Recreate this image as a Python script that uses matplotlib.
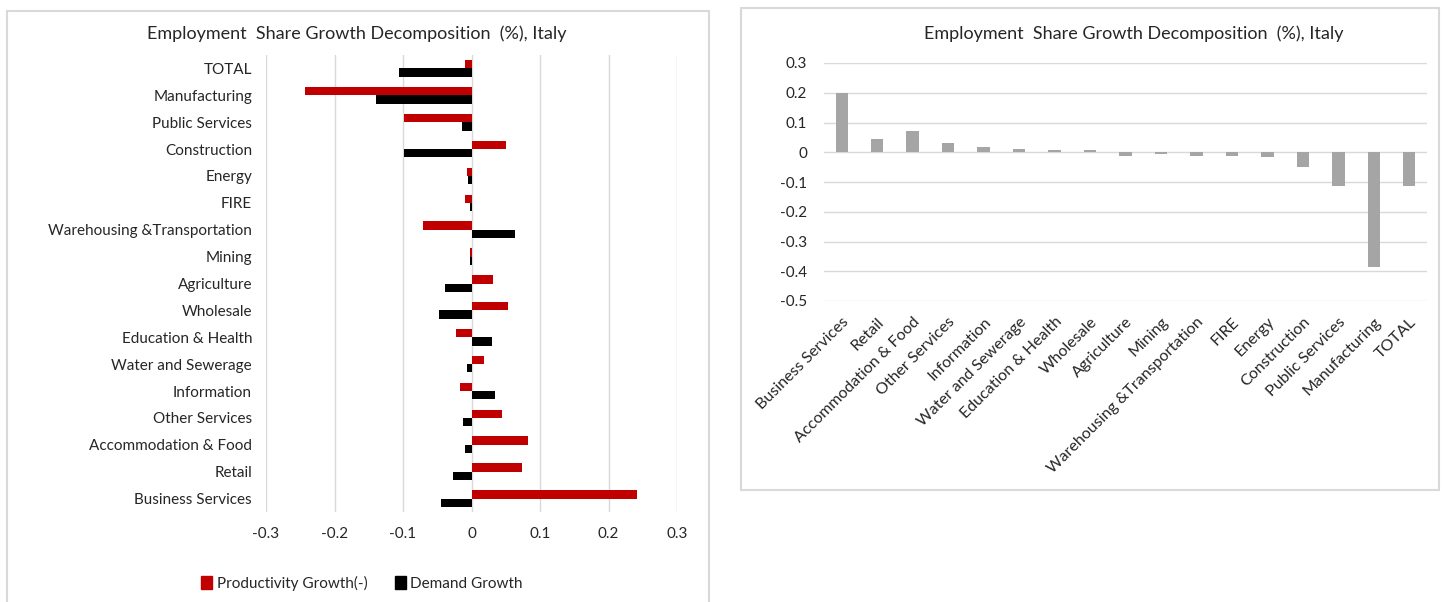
import matplotlib
matplotlib.use("Agg")
import matplotlib.pyplot as plt
from matplotlib.patches import Rectangle, Patch

plt.rcParams["font.family"] = ["Lato", "DejaVu Sans"]

# Sectors, ordered from the bottom of the horizontal chart upward
sectors = [
    "Business Services", "Retail", "Accommodation & Food", "Other Services",
    "Information", "Water and Sewerage", "Education & Health", "Wholesale",
    "Agriculture", "Mining", "Warehousing &Transportation", "FIRE", "Energy",
    "Construction", "Public Services", "Manufacturing", "TOTAL",
]
productivity_growth = [
    0.242, 0.074, 0.082, 0.044, -0.017, 0.018, -0.022, 0.054,
    0.032, -0.002, -0.071, -0.009, -0.007, 0.050, -0.098, -0.243, -0.009,
]
demand_growth = [
    -0.044, -0.027, -0.010, -0.012, 0.034, -0.007, 0.030, -0.047,
    -0.039, -0.002, 0.064, -0.002, -0.005, -0.098, -0.014, -0.140, -0.106,
]
share_growth = [
    0.198, 0.046, 0.071, 0.031, 0.018, 0.012, 0.008, 0.008,
    -0.011, -0.007, -0.011, -0.011, -0.017, -0.050, -0.114, -0.387, -0.114,
]
left_ticks = [-0.3, -0.2, -0.1, 0, 0.1, 0.2, 0.3]
right_ticks = [0.3, 0.2, 0.1, 0, -0.1, -0.2, -0.3, -0.4, -0.5]
title = "Employment  Share Growth Decomposition  (%), Italy"

RED = "#C00000"
BLACK = "#000000"
GREY = "#A5A5A5"
GRID = "#D9D9D9"
TEXT = "#262626"

W, H = 1444, 602
fig = plt.figure(figsize=(W / 100, H / 100), dpi=100)


def px_box(l, t, r, b):
    return [l / W, 1 - b / H, (r - l) / W, (b - t) / H]


def fmt(v):
    return "0" if v == 0 else f"{v:g}"


# Chart frames
for l, t, r, b in [(7, 11, 709, 640), (741, 8, 1439, 490)]:
    fig.patches.append(Rectangle((l / W, 1 - b / H), (r - l) / W, (b - t) / H,
                                 transform=fig.transFigure, fill=False,
                                 edgecolor=GRID, linewidth=1.5))

# ---- Left: horizontal decomposition bars ----
ax1 = fig.add_axes(px_box(266, 55, 677, 512))
ypos = list(range(len(sectors)))
bh = 0.31
ax1.barh([y + bh / 2 for y in ypos], productivity_growth, height=bh,
         color=RED, label="Productivity Growth(-)", zorder=3)
ax1.barh([y - bh / 2 for y in ypos], demand_growth, height=bh,
         color=BLACK, label="Demand Growth", zorder=3)
ax1.set_xlim(-0.3, 0.3)
ax1.set_ylim(-0.5, len(sectors) - 0.5)
ax1.set_xticks(left_ticks)
ax1.set_xticklabels([fmt(v) for v in left_ticks])
ax1.set_yticks(ypos)
ax1.set_yticklabels(sectors)
ax1.grid(axis="x", color=GRID, linewidth=1, zorder=0)
for s in ax1.spines.values():
    s.set_visible(False)
ax1.tick_params(axis="both", length=0, labelsize=11, labelcolor=TEXT)
ax1.tick_params(axis="y", pad=10)
ax1.tick_params(axis="x", pad=11)
fig.text(357 / W, 1 - 34 / H, title, ha="center", va="center",
         fontsize=13, color=TEXT)
fig.legend(handles=[Patch(color=RED, label="Productivity Growth(-)"),
                    Patch(color=BLACK, label="Demand Growth")],
           loc="center", bbox_to_anchor=(362 / W, 1 - 583 / H), ncol=2,
           frameon=False, fontsize=11, handlelength=0.7, handleheight=0.9,
           handletextpad=0.3, columnspacing=1.8, labelcolor=TEXT)

# ---- Right: total share growth by sector ----
ax2 = fig.add_axes(px_box(824, 63, 1427, 301))
xpos = list(range(len(sectors)))
ax2.bar(xpos, share_growth, width=0.35, color=GREY, zorder=3)
ax2.set_xlim(-0.5, len(sectors) - 0.5)
ax2.set_ylim(-0.5, 0.3)
ax2.set_yticks(right_ticks)
ax2.set_yticklabels([fmt(v) for v in right_ticks])
ax2.set_xticks(xpos)
ax2.set_xticklabels(sectors, rotation=45, ha="right", va="top",
                    rotation_mode="anchor")
ax2.grid(axis="y", color=GRID, linewidth=1, zorder=0)
for s in ax2.spines.values():
    s.set_visible(False)
ax2.tick_params(axis="both", length=0, labelsize=11, labelcolor=TEXT)
ax2.tick_params(axis="x", labelsize=11.5, pad=10)
ax2.tick_params(axis="y", pad=12)
fig.text(1134 / W, 1 - 34 / H, title, ha="center", va="center",
         fontsize=13, color=TEXT)

fig.savefig("out.png", dpi=100, facecolor="white")
